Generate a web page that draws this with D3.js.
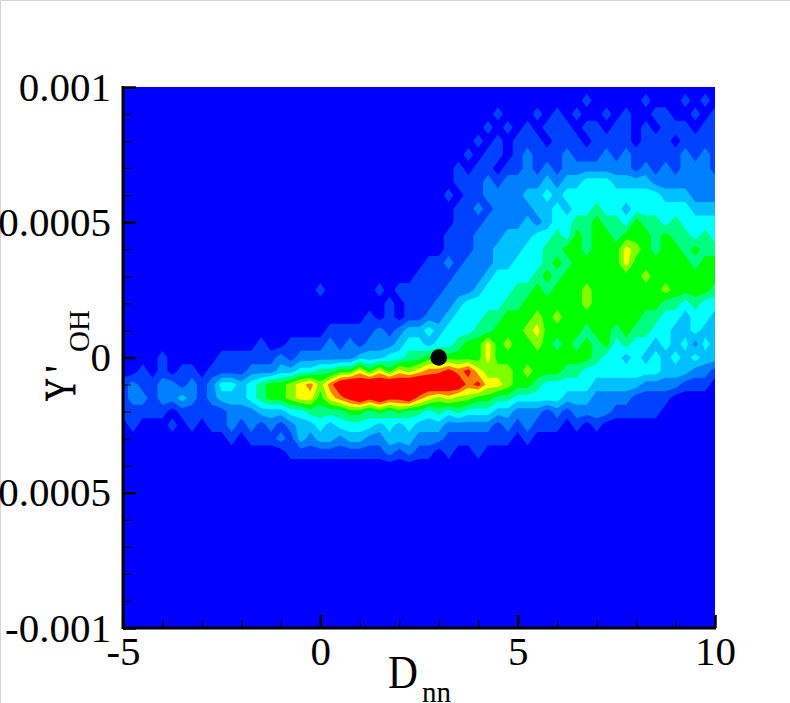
<!DOCTYPE html>
<html>
<head>
<meta charset="utf-8">
<script src="https://cdn.jsdelivr.net/npm/d3@7"></script>
<style>
    body { margin: 0; background: #fff; }
    text { font-family: "Liberation Serif", serif; fill: #000; }
    .tick text { font-family: "Liberation Serif", serif; font-size: 41px; }
    .domain { display: none; }
    .major line { stroke: #000; stroke-width: 2.5; }
    .minor line { stroke: #000; stroke-width: 1; }
</style>
</head>
<body>
<div id="container-svg"></div>
<script>
// Data
const xMajor = [-5, 0, 5, 10]
const xLabels = ["-5", "0", "5", "10"]
const xMinor = [-4, -3, -2, -1, 1, 2, 3, 4, 6, 7, 8, 9]
const yMajor = [-0.001, -0.0005, 0, 0.0005, 0.001]
const yLabels = ["-0.001", "-0.0005", "0", "0.0005", "0.001"]
const yMinor = [-0.0009, -0.0008, -0.0007, -0.0006, -0.0004, -0.0003, -0.0002, -0.0001,
    0.0001, 0.0002, 0.0003, 0.0004, 0.0006, 0.0007, 0.0008, 0.0009]
const markerPoint = [3, 0]

// Contour band colours, lowest to highest
const bandColors = ["#0040ff", "#0080ff", "#00c0ff", "#00ffff", "#00ff80", "#00ff00",
    "#80ff00", "#ffff00", "#ff8000", "#ff0000"]

// Grid of the filled field: D from -5 by 0.25, Y' from 0.00095 by -0.00005.
// One hex character per node, anything above a stays in the red band
const gridX0 = -5
const gridDx = 0.25
const gridY0 = 0.00095
const gridDy = -0.00005
const fieldRows = [
    "0000000000 0000000000 0000000000 0000000000 0000000100 0001000101 0",
    "0000000000 0000000000 0000000000 0000000010 0010101001 0100110010 1",
    "0000000000 0000000000 0000000000 0000000101 0101110110 1101011101 1",
    "0000000000 0000000000 0000000000 0000001010 1110111011 1101110111 1",
    "0000000000 0000000000 0000000000 0000010110 1211121112 1211111212 1",
    "0000000000 0000000000 0000000000 0000101101 1212122222 2212121222 1",
    "0000000000 0000000000 0000000000 0000111212 2223233444 3333222222 2",
    "0000000000 0000000000 0000000000 0001011222 2334344444 4444433322 2",
    "0000000000 0000000000 0000000000 0000112122 2233434454 4344444433 3",
    "0000000000 0000000000 0000000000 0000111222 2323445565 5465545444 4",
    "0000000000 0000000000 0000000000 0001112223 3344546566 5666565545 4",
    "0000000000 0000000000 0000000000 0001112233 3445566566 6876566565 5",
    "0000000000 0000000000 0000000000 0112122233 4445656666 6866666656 6",
    "0000000000 0000000000 0000000000 1111222344 4456566666 6667666666 6",
    "0000000000 0000000000 1000001011 1112223444 5565666766 6666676666 5",
    "0000000000 0000000000 0000000101 1122344445 5666666766 6666655454 4",
    "0000000000 0000000000 0000010101 1223444556 6676766666 6665544344 3",
    "0000000000 0000000000 0111112123 3434445566 6786666566 5655443343 3",
    "0000000000 0000100111 1212122234 4344566867 6676565656 4544343424 3",
    "0000100000 1111112122 2222333445 5666666866 6666666654 4343434343 3",
    "0010101101 1112223344 5566868687 899a9a8777 6766655444 4444433322 1",
    "1211221212 4434566789 79bcbcbcbc cbcbb9a887 6654444433 3332222111 0",
    "1221223212 3334566788 689ababaab 9878776655 4444433322 2211110000 0",
    "1111101111 1222333445 5556656565 5454544433 2221212222 1111100000 0",
    "0100010101 1212121233 4344443434 3332222212 1211101010 0000000000 0",
    "0000000000 0101112132 3323322333 2221111111 0100000000 0000000000 0",
    "0000000000 0000000111 1111111212 1101001000 0000000000 0000000000 0",
    "0000000000 0000000000 0000000000 0000000000 0000000000 0000000000 0"
]

// SVG initialization
const width = 790
const height = 703
const margin = { top: 87, right: 75, bottom: 75, left: 123 }

const svg = d3.select("div#container-svg")
    .append("svg")
    .attr("width", width)
    .attr("height", height)
    .style("display", "block")

// Faint window edge in the original capture
svg.append("path")
    .attr("d", d3.line()([[0.5, height], [0.5, 0.5], [width, 0.5]]))
    .attr("fill", "none")
    .attr("stroke", "#d4d4d4")

const x = d3.scaleLinear().domain([-5, 10]).range([margin.left, width - margin.right])
const y = d3.scaleLinear().domain([-0.001, 0.001]).range([height - margin.bottom, margin.top])

svg.append("clipPath").attr("id", "plot-clip")
    .append("rect")
    .attr("x", x(-5))
    .attr("y", y(0.001))
    .attr("width", x(10) - x(-5))
    .attr("height", y(-0.001) - y(0.001))

const plot = svg.append("g").attr("clip-path", "url(#plot-clip)")

plot.append("rect")
    .attr("x", x(-5))
    .attr("y", y(0.001))
    .attr("width", x(10) - x(-5))
    .attr("height", y(-0.001) - y(0.001))
    .attr("fill", "#0000ff")

// Filled contours
const rows = fieldRows.map(r => r.replace(/ /g, ""))
const nx = rows[0].length
const ny = rows.length
const values = rows.flatMap(r => Array.from(r, c => parseInt(c, 16)))

const contours = d3.contours()
    .size([nx, ny])
    .thresholds(bandColors.map((c, i) => i + 0.5))(values)

const gridProjection = d3.geoTransform({
    point: function(gx, gy) {
        this.stream.point(
            x(gridX0 + (gx - 0.5) * gridDx),
            y(gridY0 + (gy - 0.5) * gridDy))
    }
})
const path = d3.geoPath().projection(gridProjection)

plot.selectAll("path.band")
    .data(contours)
    .join("path")
    .attr("class", "band")
    .attr("d", path)
    .attr("fill", (d, i) => bandColors[i])

// Axes, ticks point into the plot
const axes = svg.append("g")

axes.append("g").attr("class", "major")
    .attr("transform", "translate(0," + y(-0.001) + ")")
    .call(d3.axisBottom(x).tickValues(xMajor).tickFormat((d, i) => xLabels[i])
        .tickSizeInner(-13).tickSizeOuter(0).tickPadding(8))
axes.append("g").attr("class", "minor")
    .attr("transform", "translate(0," + y(-0.001) + ")")
    .call(d3.axisBottom(x).tickValues(xMinor).tickFormat("").tickSizeInner(-8).tickSizeOuter(0))

axes.append("g").attr("class", "major")
    .attr("transform", "translate(" + x(-5) + ",0)")
    .call(d3.axisLeft(y).tickValues(yMajor).tickFormat((d, i) => yLabels[i])
        .tickSizeInner(-13).tickSizeOuter(0).tickPadding(12))
axes.append("g").attr("class", "minor")
    .attr("transform", "translate(" + x(-5) + ",0)")
    .call(d3.axisLeft(y).tickValues(yMinor).tickFormat("").tickSizeInner(-8).tickSizeOuter(0))

// Heavy axis lines
axes.append("line")
    .attr("x1", x(-5)).attr("x2", x(10) + 1)
    .attr("y1", y(-0.001)).attr("y2", y(-0.001))
    .attr("stroke", "#000").attr("stroke-width", 3)
axes.append("line")
    .attr("x1", x(-5)).attr("x2", x(-5))
    .attr("y1", y(0.001) - 1).attr("y2", y(-0.001) + 1)
    .attr("stroke", "#000").attr("stroke-width", 3)

// Marker
svg.append("circle")
    .attr("cx", x(markerPoint[0]))
    .attr("cy", y(markerPoint[1]))
    .attr("r", 8.3)
    .attr("fill", "#000")

// Axis titles, the big letters are squeezed in the original
svg.append("text")
    .attr("transform", "translate(388,688) scale(0.9,1)")
    .style("font-size", "46px")
    .text("D")
svg.append("text")
    .attr("x", 422)
    .attr("y", 702)
    .style("font-size", "29px")
    .text("nn")

svg.append("text")
    .attr("transform", "translate(75,401) rotate(-90) scale(0.7,1)")
    .style("font-size", "45px")
    .style("stroke", "#000")
    .style("stroke-width", 0.8)
    .text("Y")
svg.append("text")
    .attr("transform", "translate(75,373) rotate(-90)")
    .style("font-size", "45px")
    .text("'")
svg.append("text")
    .attr("transform", "translate(89,352) rotate(-90)")
    .style("font-size", "29px")
    .text("OH")
</script>
</body>
</html>
